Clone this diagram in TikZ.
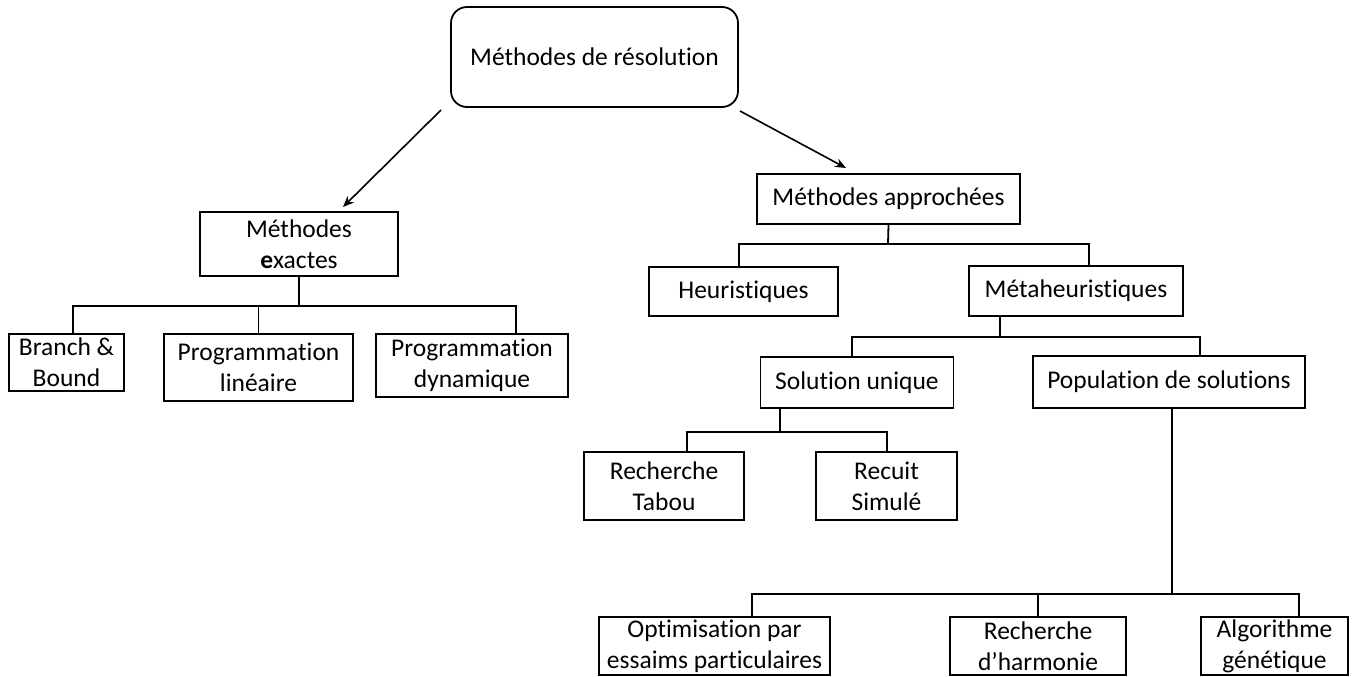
\documentclass[tikz,border=0pt]{standalone}
\usepackage{fontspec}
\setmainfont{Carlito}[Ligatures=CommonOff]
\usetikzlibrary{arrows.meta}
\begin{document}
\begin{tikzpicture}[x=1pt,y=-1pt,
  box/.style={draw=black,line width=1.8pt,rectangle,inner sep=0pt,align=center,
    font=\fontsize{25.5}{31}\selectfont},
  conn/.style={draw=black,line width=1.8pt},
  arr/.style={draw=black,line width=1.6pt,-{Stealth[length=11pt,width=9pt]}}]
\useasboundingbox (0,0) rectangle (1355,677);
% root
\node[box,rounded corners=16pt,minimum width=287pt,minimum height=100pt] (root) at (594.5,57) {Méthodes de résolution};
% exact branch
\node[box,minimum width=198pt,minimum height=64pt] (ex) at (299,244) {Méthodes\\\textbf{e}xactes};
\node[box,minimum width=115pt,minimum height=57pt] (bb) at (66.5,362.5) {Branch \&\\Bound};
\node[box,minimum width=189pt,minimum height=67pt] (lin) at (258.5,367.5) {Programmation\\linéaire};
\node[box,minimum width=192pt,minimum height=63pt] (dyn) at (472,365.5) {Programmation\\dynamique};
% approached branch
\node[box,minimum width=263pt,minimum height=50pt] (app) at (888.5,199) {Méthodes approchées};
\node[box,minimum width=189pt,minimum height=49pt] (heu) at (743.5,291.5) {Heuristiques};
\node[box,minimum width=214pt,minimum height=50pt] (meta) at (1076,291) {Métaheuristiques};
\node[box,minimum width=193pt,minimum height=51pt] (sol) at (857,382.5) {Solution unique};
\node[box,minimum width=272pt,minimum height=52pt] (pop) at (1169,382) {Population de solutions};
\node[box,minimum width=160pt,minimum height=68pt] (tabou) at (664,486) {Recherche\\Tabou};
\node[box,minimum width=141pt,minimum height=68pt] (recuit) at (886.5,486) {Recuit\\Simulé};
\node[box,minimum width=231pt,minimum height=58pt] (opt) at (714.5,646) {Optimisation par\\essaims particulaires};
\node[box,minimum width=176pt,minimum height=58pt] (harm) at (1038,646) {Recherche\\d’harmonie};
\node[box,minimum width=147pt,minimum height=58pt] (ag) at (1274.5,646) {Algorithme\\génétique};
% arrows
\coordinate (a1) at (441,110);
\coordinate (a2) at (740,111);
\draw[arr] (a1) -- (343,207) coordinate (a1e);
\draw[arr] (a2) -- (846,168) coordinate (a2e);
% bus exact
\coordinate (busA) at (299,306);
\draw[conn] (ex.south) -- (busA);
\draw[conn] ([xshift=6.5pt]bb.north) |- (busA) -| ([xshift=44pt]dyn.north);
\draw[conn] (lin.north) -- (lin.north |- busA);
% bus approchees
\coordinate (busB) at (888,244);
\draw[conn] (app.south) -- (busB);
\draw[conn] ([xshift=-4.5pt]heu.north) |- (busB) -| ([xshift=13pt]meta.north);
% bus meta
\coordinate (busC) at (1000,337);
\draw[conn] ([xshift=-76pt]meta.south) -- (busC);
\draw[conn] ([xshift=-5pt]sol.north) |- (busC) -| ([xshift=31pt]pop.north);
% bus solution unique
\coordinate (busD) at (780,432);
\draw[conn] ([xshift=-77pt]sol.south) -- (busD);
\draw[conn] ([xshift=23pt]tabou.north) |- (busD) -| ([xshift=0.5pt]recuit.north);
% bus population
\coordinate (busE) at (1172,594);
\draw[conn] ([xshift=3pt]pop.south) -- (busE);
\draw[conn] ([xshift=37.5pt]opt.north) |- (busE) -| ([xshift=24.5pt]ag.north);
\draw[conn] (harm.north) -- (harm.north |- busE);
\end{tikzpicture}
\end{document}
